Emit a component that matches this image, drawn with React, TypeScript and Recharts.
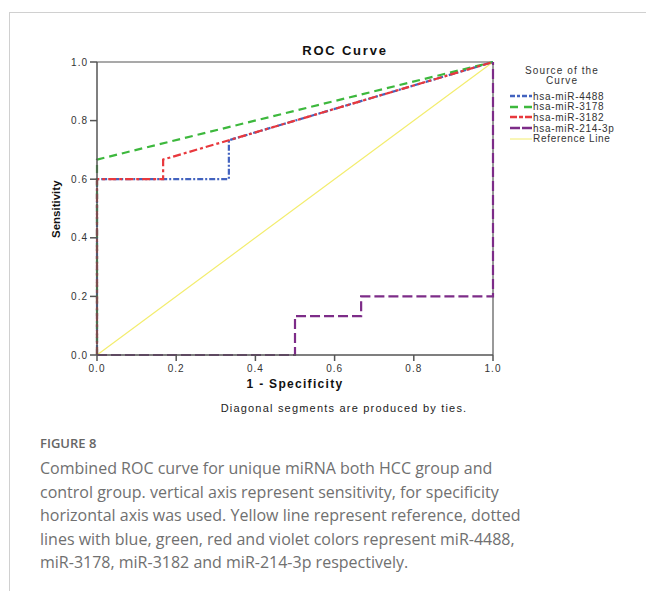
import { Line, LineChart, ReferenceLine, XAxis, YAxis } from 'recharts';

// ROC points (1 - specificity, sensitivity)
const mir4488 = [
  { x: 0, y: 0 },
  { x: 0, y: 0.6 },
  { x: 0.333, y: 0.6 },
  { x: 0.333, y: 0.733 },
  { x: 1, y: 1 },
];
const mir3178 = [
  { x: 0, y: 0 },
  { x: 0, y: 0.667 },
  { x: 1, y: 1 },
];
const mir3182 = [
  { x: 0, y: 0 },
  { x: 0, y: 0.6 },
  { x: 0.167, y: 0.6 },
  { x: 0.167, y: 0.667 },
  { x: 0.333, y: 0.733 },
  { x: 1, y: 1 },
];
const mir214 = [
  { x: 0, y: 0 },
  { x: 0.5, y: 0 },
  { x: 0.5, y: 0.133 },
  { x: 0.667, y: 0.133 },
  { x: 0.667, y: 0.2 },
  { x: 1, y: 0.2 },
  { x: 1, y: 1 },
];
const refLine = [
  { x: 0, y: 0 },
  { x: 1, y: 1 },
];

const TICKS = [0, 0.2, 0.4, 0.6, 0.8, 1.0];

const SERIES = [
  { name: 'hsa-miR-4488', data: mir4488, color: '#4363bf', dash: '6 2 2 2', key: '5 2 3 2', width: 2 },
  { name: 'hsa-miR-3178', data: mir3178, color: '#3db83d', dash: '8 5', key: '8 6 3 0', width: 2 },
  { name: 'hsa-miR-3182', data: mir3182, color: '#e8383d', dash: '8 3 3 3', key: '7 2 4 2', width: 2 },
  { name: 'hsa-miR-214-3p', data: mir214, color: '#7d2c88', dash: '10 4', key: '10 2', width: 2 },
  { name: 'Reference Line', data: refLine, color: '#f3ed6e', dash: undefined, key: undefined, width: 1 },
];

const CAPTION = [
  'Combined ROC curve for unique miRNA both HCC group and',
  'control group. vertical axis represent sensitivity, for specificity',
  'horizontal axis was used. Yellow line represent reference, dotted',
  'lines with blue, green, red and violet colors represent miR-4488,',
  'miR-3178, miR-3182 and miR-214-3p respectively.',
];

const SANS = 'Arial, "Liberation Sans", sans-serif';
const AXIS = '#555';

const YTick = (props: any) => (
  <text x={props.x} y={props.y} dy="0.35em" textAnchor="end" fontSize={10} fill="#333"
    fontFamily={SANS} letterSpacing={1}>
    {Number(props.payload.value).toFixed(1)}
  </text>
);

const XTick = (props: any) => (
  <text x={props.x} y={props.y} dy="0.75em" textAnchor="middle" fontSize={10} fill="#333"
    fontFamily={SANS} letterSpacing={1}>
    {Number(props.payload.value).toFixed(1)}
  </text>
);

const LegendBox = () => (
  <div style={{ fontFamily: SANS, color: '#333', fontSize: 10, letterSpacing: 0.7 }}>
    <div style={{ textAlign: 'center', width: 114, lineHeight: '10px', marginBottom: 5, letterSpacing: 1.1 }}>
      Source of the<br />Curve
    </div>
    {SERIES.map((s) => (
      <div key={s.name} style={{ display: 'flex', alignItems: 'center', height: 10.6 }}>
        <svg width={22} height={6} style={{ marginLeft: 5 }}>
          <line x1={0} y1={3} x2={22} y2={3} stroke={s.color} strokeWidth={s.width === 2 ? 2.5 : 1}
            strokeDasharray={s.key} />
        </svg>
        <span style={{ marginLeft: 1, whiteSpace: 'nowrap' }}>{s.name}</span>
      </div>
    ))}
  </div>
);

export default function App() {
  return (
    <div style={{ position: 'absolute', left: 0, top: 0, width: 646, height: 596, background: '#fff' }}>
      <div style={{ position: 'absolute', left: 9, top: 12, right: 0, height: 578,
        borderLeft: '1px solid #d0d0d0', borderTop: '1px solid #d0d0d0' }} />
      <div style={{ position: 'absolute', left: 245, width: 200, top: 43, textAlign: 'center',
        fontFamily: SANS, fontWeight: 'bold', fontSize: 13, letterSpacing: 1.8, color: '#111' }}>
        ROC Curve
      </div>
      <div style={{ position: 'absolute', left: 0, top: 0 }}>
        <LineChart width={646} height={400} margin={{ top: 62, right: 153, bottom: 25, left: 77 }}>
          <XAxis dataKey="x" type="number" domain={[0, 1]} ticks={TICKS} tick={<XTick />}
            tickSize={6} tickMargin={3} height={20} stroke={AXIS} strokeWidth={1.5}
            allowDuplicatedCategory={false} />
          <YAxis dataKey="y" type="number" domain={[0, 1]} ticks={TICKS} tick={<YTick />}
            tickSize={7} tickMargin={2} width={20} stroke={AXIS} strokeWidth={1.5} />
          <ReferenceLine y={1} stroke={AXIS} strokeWidth={1.2} />
          <ReferenceLine x={1} stroke={AXIS} strokeWidth={1.2} />
          {[SERIES[4], SERIES[0], SERIES[1], SERIES[2], SERIES[3]].map((s) => (
            <Line key={s.name} data={s.data} dataKey="y" name={s.name} type="linear"
              stroke={s.color} strokeWidth={s.width === 2 ? 2.2 : 1.2} strokeDasharray={s.dash}
              dot={false} activeDot={false} isAnimationActive={false} />
          ))}
        </LineChart>
      </div>
      <div style={{ position: 'absolute', left: 505, top: 66 }}>
        <LegendBox />
      </div>
      <div style={{ position: 'absolute', left: 30, top: 202, width: 56, height: 16, textAlign: 'center',
        transform: 'rotate(-90deg)', fontFamily: SANS, fontWeight: 'bold', fontSize: 11.5, color: '#111' }}>
        Sensitivity
      </div>
      <div style={{ position: 'absolute', left: 195, width: 200, top: 377, textAlign: 'center',
        fontFamily: SANS, fontWeight: 'bold', fontSize: 12, letterSpacing: 1.3, color: '#111' }}>
        1 - Specificity
      </div>
      <div style={{ position: 'absolute', left: 194, width: 300, top: 402, textAlign: 'center',
        fontFamily: SANS, fontSize: 11, letterSpacing: 1.2, color: '#222' }}>
        Diagonal segments are produced by ties.
      </div>
      <div style={{ position: 'absolute', left: 40, top: 434, fontFamily: '"Open Sans", sans-serif',
        fontSize: 13, fontWeight: 600, color: '#666' }}>
        FIGURE 8
      </div>
      <div style={{ position: 'absolute', left: 40, top: 457, fontFamily: '"Open Sans", sans-serif',
        fontSize: 16, lineHeight: '23.5px', color: '#707070', whiteSpace: 'nowrap' }}>
        {CAPTION.map((l) => <div key={l}>{l}</div>)}
      </div>
    </div>
  );
}
